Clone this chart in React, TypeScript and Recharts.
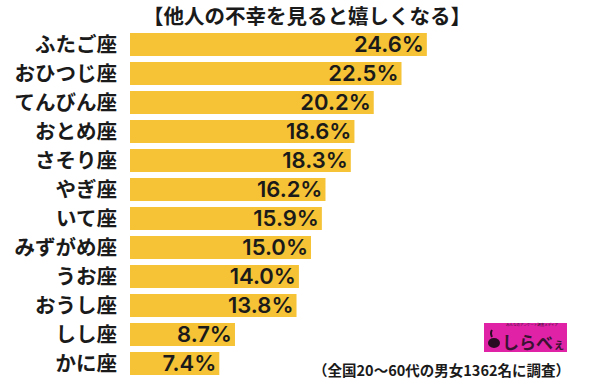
import React from "react";
import { BarChart, Bar, XAxis, YAxis, LabelList } from "recharts";

const signs = [
  "ふたご座",
  "おひつじ座",
  "てんびん座",
  "おとめ座",
  "さそり座",
  "やぎ座",
  "いて座",
  "みずがめ座",
  "うお座",
  "おうし座",
  "しし座",
  "かに座",
];
const values = [24.6, 22.5, 20.2, 18.6, 18.3, 16.2, 15.9, 15.0, 14.0, 13.8, 8.7, 7.4];
const title = "【他人の不幸を見ると嬉しくなる】";
const note = "（全国20～60代の男女1362名に調査）";

const data = signs.map((name, i) => ({ name, value: values[i] }));

const FONT = '"Noto Sans CJK JP", "Noto Sans", sans-serif';
const NUM_FONT = 'Inter, "Noto Sans CJK JP", sans-serif';

const ValueLabel = (props: any) => {
  const { x, y, width, height, value } = props;
  return (
    <text
      x={x + width - 3}
      y={y + height / 2}
      dy="0.36em"
      textAnchor="end"
      fontSize={22}
      fontWeight={600}
      fontFamily={NUM_FONT}
      fill="#1a1a1a"
    >
      {Number(value).toFixed(1)}%
    </text>
  );
};

export default function App() {
  return (
    <div
      style={{
        position: "absolute",
        left: 0,
        top: 0,
        width: 600,
        height: 380,
        background: "#fff",
        fontFamily: FONT,
        overflow: "hidden",
      }}
    >
      <div
        style={{
          position: "absolute",
          left: 0,
          width: 614,
          top: 4,
          textAlign: "center",
          fontSize: 20.5,
          fontWeight: 700,
          color: "#1a1a1a",
          lineHeight: "22px",
        }}
      >
        {title}
      </div>
      <BarChart
        width={600}
        height={380}
        data={data}
        layout="vertical"
        margin={{ top: 30, right: 108, bottom: 2, left: 0 }}
      >
        <XAxis type="number" domain={[0, 30]} hide />
        <YAxis
          type="category"
          dataKey="name"
          width={130}
          axisLine={false}
          tickLine={false}
          tickMargin={7}
          interval={0}
          tick={{ fontSize: 20.5, fontWeight: 700, fill: "#1a1a1a", fontFamily: FONT }}
        />
        <Bar dataKey="value" fill="#F5C335" barSize={23} isAnimationActive={false}>
          <LabelList dataKey="value" content={<ValueLabel />} />
        </Bar>
      </BarChart>
      <div
        style={{
          position: "absolute",
          left: 484,
          top: 323,
          width: 83,
          height: 29,
          background: "#DF22A6",
        }}
      >
        <div
          style={{
            position: "absolute",
            left: 22,
            top: 0,
            fontSize: 3.5,
            lineHeight: "4px",
            color: "#3a1232",
            whiteSpace: "nowrap",
          }}
        >
          みんなのアンケート調査メディア
        </div>
        <svg
          width={14}
          height={20}
          style={{ position: "absolute", left: 3, top: 6 }}
        >
          <path d="M5 1 Q3 4 5 8" stroke="#2a0c22" strokeWidth={2} fill="none" />
          <ellipse cx={7} cy={14} rx={6} ry={5} fill="#2a0c22" />
        </svg>
        <div
          style={{
            position: "absolute",
            left: 18,
            top: 9.5,
            fontSize: 17,
            fontWeight: 700,
            color: "#3a1232",
            lineHeight: "17px",
            whiteSpace: "nowrap",
          }}
        >
          しらべ<span style={{ fontSize: 12 }}>ぇ</span>
        </div>
      </div>
      <div
        style={{
          position: "absolute",
          right: 30,
          top: 361,
          fontSize: 14.5,
          fontWeight: 700,
          color: "#1a1a1a",
          lineHeight: "18px",
          whiteSpace: "nowrap",
        }}
      >
        {note}
      </div>
    </div>
  );
}
